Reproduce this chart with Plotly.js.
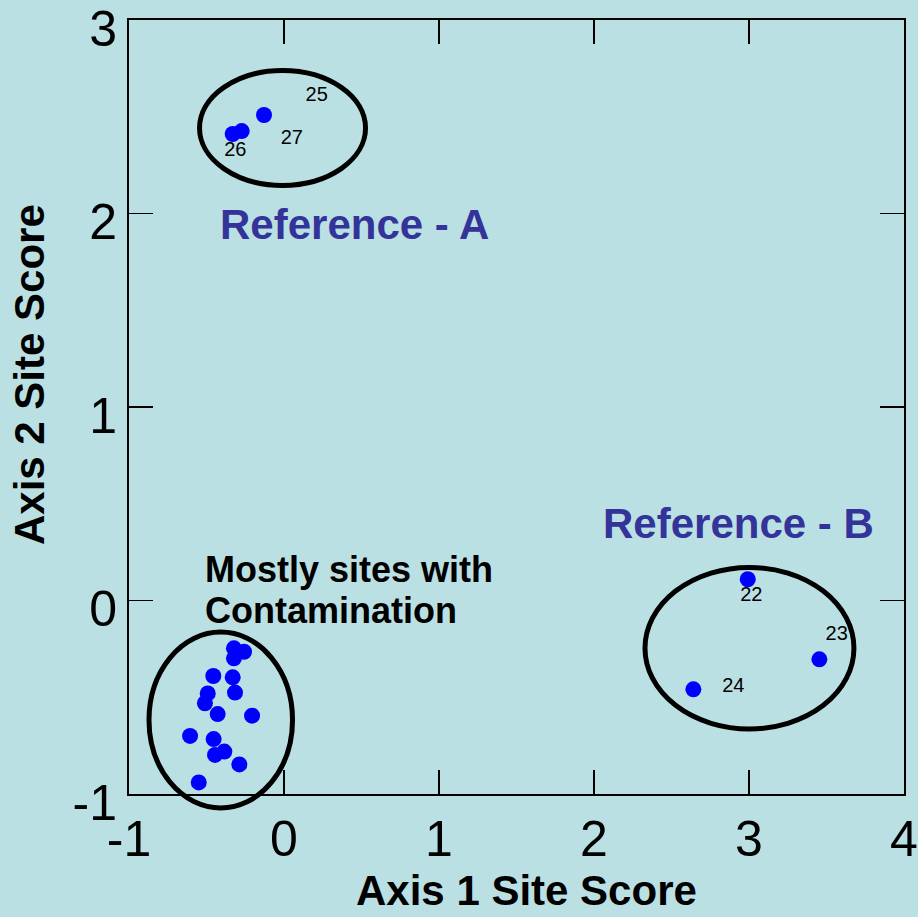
<!DOCTYPE html>
<html>
<head>
<meta charset="utf-8">
<script src="https://cdn.plot.ly/plotly-3.0.1.min.js"></script>
<style>html,body{margin:0;padding:0;background:#BBE0E3;}</style>
</head>
<body>
<div id="chart" style="width:918px;height:917px;"></div>
<script>
// Site scores: contamination group
var contamX = [-0.323, -0.258, -0.323, -0.456, -0.331, -0.492, -0.316, -0.510, -0.428, -0.206, -0.606, -0.454, -0.385, -0.445, -0.288, -0.550];
var contamY = [-0.247, -0.265, -0.299, -0.390, -0.397, -0.480, -0.476, -0.531, -0.587, -0.595, -0.700, -0.716, -0.781, -0.798, -0.847, -0.940];
// Reference sites
var refSites = ["25", "26", "27", "22", "23", "24"];
var refX = [-0.129, -0.331, -0.273, 2.992, 3.454, 2.641];
var refY = [2.509, 2.411, 2.426, 0.110, -0.304, -0.459];
// Site number label anchor points (data units)
var labelText = ["25", "27", "26", "22", "23", "24"];
var labelX = [0.211, 0.050, -0.314, 3.015, 3.566, 2.899];
var labelY = [2.606, 2.386, 2.324, 0.024, -0.177, -0.445];
// Group ellipses (data units): [x0, x1, y0, y1]
var groupNames = ["Reference - A", "Contamination", "Reference - B"];
var ellipseA = [-0.545, 0.526, 2.145, 2.739];
var ellipseC = [-0.871, 0.055, -1.072, -0.163];
var ellipseB = [2.329, 3.677, -0.664, 0.171];
// Axes
var xRange = [-1, 4];
var yRange = [-1, 3];
var xTicks = [-1, 0, 1, 2, 3, 4];
var yTicks = [-1, 0, 1, 2, 3];
var xTitle = "Axis 1 Site Score";
var yTitle = "Axis 2 Site Score";

function px(x) { return (x - xRange[0]) / (xRange[1] - xRange[0]); }
function py(y) { return (y - yRange[0]) / (yRange[1] - yRange[0]); }
function ellipse(e) {
  return {type: "circle", xref: "paper", yref: "paper",
    x0: px(e[0]), x1: px(e[1]), y0: py(e[2]), y1: py(e[3]),
    line: {color: "#000000", width: 5}, fillcolor: "rgba(0,0,0,0)", layer: "above"};
}

var FONT = "Liberation Sans, Arial, Helvetica, sans-serif";

var traces = [
  {x: contamX, y: contamY, type: "scatter", mode: "markers",
   marker: {color: "#0000FF", size: 16}, cliponaxis: false, hoverinfo: "x+y"},
  {x: refX, y: refY, text: refSites, type: "scatter", mode: "markers",
   marker: {color: "#0000FF", size: 16}, cliponaxis: false, hoverinfo: "text+x+y"},
  {x: labelX, y: labelY, text: labelText, type: "scatter", mode: "text",
   textposition: "middle center", textfont: {family: FONT, size: 20, color: "#000000"},
   cliponaxis: false, hoverinfo: "skip"}
];

var layout = {
  width: 918, height: 917,
  margin: {l: 129, r: 14, t: 20, b: 123},
  paper_bgcolor: "#BBE0E3", plot_bgcolor: "#BBE0E3",
  showlegend: false,
  xaxis: {range: xRange, tickvals: xTicks, ticktext: xTicks.map(String),
    showgrid: false, zeroline: false, showline: true, linecolor: "#000000", linewidth: 2,
    mirror: "ticks", ticks: "inside", ticklen: 24, tickwidth: 1.5, tickcolor: "#000000",
    ticklabeloverflow: "allow",
    tickfont: {family: FONT, size: 50, color: "#000000"}},
  yaxis: {range: yRange, tickvals: yTicks, ticktext: yTicks.map(String),
    showgrid: false, zeroline: false, showline: true, linecolor: "#000000", linewidth: 2,
    mirror: "ticks", ticks: "inside", ticklen: 24, tickwidth: 1.5, tickcolor: "#000000",
    ticklabeloverflow: "allow", ticklabelshift: 8,
    tickfont: {family: FONT, size: 50, color: "#000000"}},
  shapes: [ellipse(ellipseA), ellipse(ellipseC), ellipse(ellipseB)],
  annotations: [
    {text: xTitle, xref: "paper", yref: "paper", x: 0.5123, y: -0.1245, xanchor: "center", yanchor: "middle",
     showarrow: false, font: {family: FONT, size: 42, color: "#000000", weight: "bold"}},
    {text: yTitle, xref: "paper", yref: "paper", x: -0.129, y: 0.5413, xanchor: "center", yanchor: "middle",
     textangle: -90, showarrow: false, font: {family: FONT, size: 42, color: "#000000", weight: "bold"}},
    {text: groupNames[0], xref: "x", yref: "y", x: 0.452, y: 1.941, xanchor: "center", yanchor: "middle",
     showarrow: false, font: {family: FONT, size: 42, color: "#333399", weight: "bold"}},
    {text: groupNames[2], xref: "x", yref: "y", x: 2.931, y: 0.399, xanchor: "center", yanchor: "middle",
     showarrow: false, font: {family: FONT, size: 42, color: "#333399", weight: "bold"}},
    {text: "Mostly sites with", xref: "x", yref: "y", x: -0.5245, y: 0.160, xanchor: "left", yanchor: "middle",
     showarrow: false, font: {family: FONT, size: 36, color: "#000000", weight: "bold"}},
    {text: "Contamination", xref: "x", yref: "y", x: -0.5245, y: -0.054, xanchor: "left", yanchor: "middle",
     showarrow: false, font: {family: FONT, size: 36, color: "#000000", weight: "bold"}}
  ]
};

Plotly.newPlot("chart", traces, layout, {displayModeBar: false, staticPlot: true});
</script>
</body>
</html>
